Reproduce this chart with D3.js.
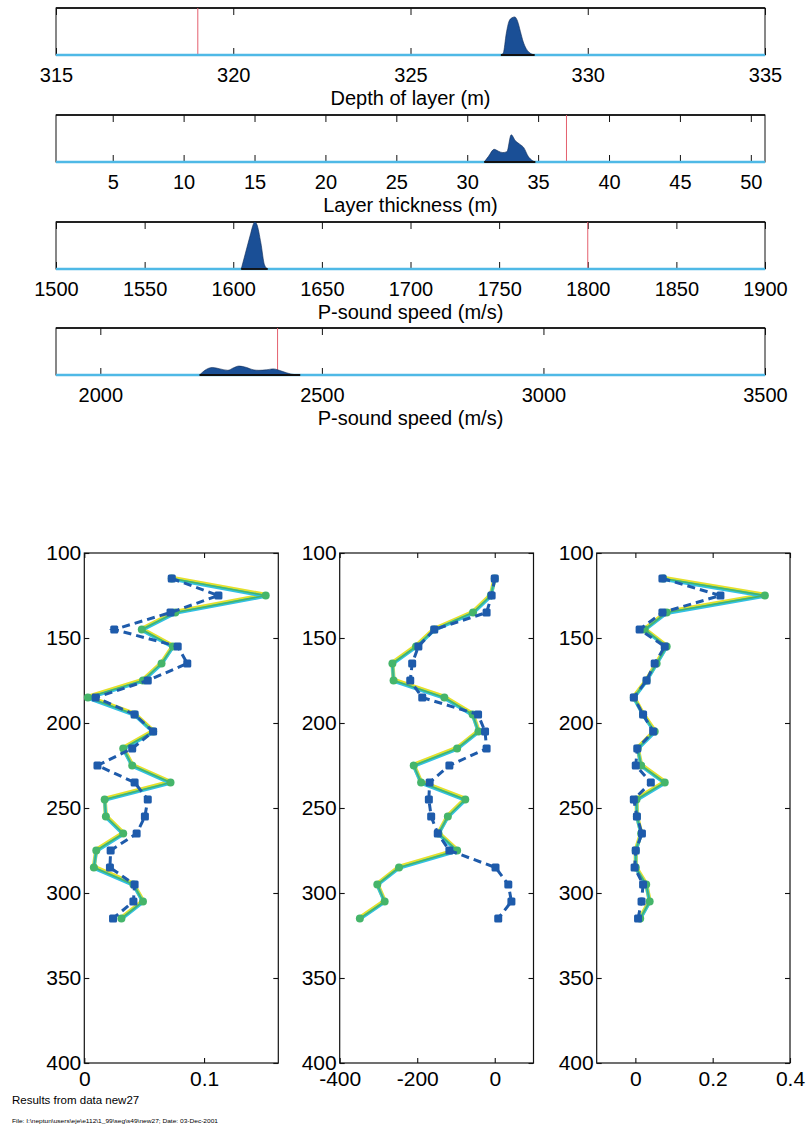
<!DOCTYPE html>
<html>
<head>
<meta charset="utf-8">
<script src="https://cdn.jsdelivr.net/npm/d3@7"></script>
<style>
  body { margin: 0; background: #fff; }
  svg { display: block; font-family: "Liberation Sans", Arial, Helvetica, sans-serif; }
</style>
</head>
<body>
<svg id="chart" width="809" height="1126"></svg>
<script>
// ---- posterior histograms (top) ----
const depthTicks = [315, 320, 325, 330, 335];
const depthX = [327.55, 327.62, 327.7, 327.78, 327.86, 327.94, 328.02, 328.1, 328.18, 328.26, 328.34, 328.42, 328.5];
const depthY = [0, 0.05, 0.45, 0.72, 0.79, 0.81, 0.72, 0.5, 0.28, 0.14, 0.06, 0.02, 0];

const thickTicks = [5, 10, 15, 20, 25, 30, 35, 40, 45, 50];
const thickX = [31.2, 31.5, 31.9, 32.2, 32.5, 32.8, 33.1, 33.4, 33.7, 34.0, 34.3, 34.6, 34.8];
const thickY = [0, 0.12, 0.27, 0.23, 0.2, 0.22, 0.58, 0.45, 0.38, 0.3, 0.12, 0.03, 0];

const speed1Ticks = [1500, 1550, 1600, 1650, 1700, 1750, 1800, 1850, 1900];
const speed1X = [1604.5, 1606.9, 1609.8, 1611.3, 1612.1, 1613.3, 1615.6, 1617.6, 1619.4];
const speed1Y = [0, 0.34, 0.75, 0.95, 1.0, 0.95, 0.55, 0.09, 0];

const speed2Ticks = [2000, 2500, 3000, 3500];
const speed2X = [2224, 2236, 2253, 2270, 2288, 2300, 2313, 2330, 2345, 2358, 2375, 2390, 2410, 2430, 2451];
const speed2Y = [0, 0.1, 0.16, 0.13, 0.1, 0.15, 0.19, 0.16, 0.11, 0.1, 0.11, 0.13, 0.08, 0.02, 0];

const trueValues = [319, 37, 1800, 2400];

// ---- profiles vs depth (bottom) ----
const depths = [115, 125, 135, 145, 155, 165, 175, 185, 195, 205, 215, 225, 235, 245, 255, 265, 275, 285, 295, 305, 315];
const depthAxisTicks = [100, 150, 200, 250, 300, 350, 400];

const profA_dashed = [0.073, 0.112, 0.072, 0.025, 0.078, 0.086, 0.053, 0.0095, 0.042, 0.0575, 0.040, 0.011, 0.042, 0.053, 0.0506, 0.0437, 0.022, 0.0214, 0.042, 0.041, 0.024];
const profA_solid  = [0.073, 0.1515, 0.076, 0.048, 0.074, 0.0645, 0.049, 0.003, 0.042, 0.0575, 0.0325, 0.040, 0.072, 0.017, 0.018, 0.0325, 0.010, 0.008, 0.041, 0.049, 0.031];
const profA_ticks  = [0, 0.1];

const profB_dashed = [0, -8, -21, -156, -197, -213, -218, -187, -43, -25, -21, -117, -168, -170, -164, -147, -117, 2, 35, 43, 9];
const profB_solid  = [0, -10, -56, -156, -203, -264, -261, -130, -57, -42, -97, -209, -190, -76, -121, -145, -97, -247, -303, -284, -348];
const profB_ticks  = [-400, -200, 0];

const profC_dashed = [0.070, 0.220, 0.070, 0.011, 0.076, 0.050, 0.029, -0.004, 0.020, 0.046, 0.005, 0.001, 0.040, -0.004, 0.004, 0.017, 0.001, -0.002, 0.020, 0.016, 0.007];
const profC_solid  = [0.072, 0.335, 0.081, 0.024, 0.081, 0.055, 0.029, -0.004, 0.020, 0.050, 0.006, 0.015, 0.076, 0.003, 0.004, 0.015, 0.001, 0.001, 0.028, 0.037, 0.0125];
const profC_ticks  = [0, 0.2, 0.4];

const svg = d3.select("#chart");

// colours
const histFill = "#1a4f96";
const baseCyan = "#4fb9e6";
const truthRed = "#e4606e";
const dashBlue = "#1e5bab";
const solidGreen = "#45b56a";
const solidYellow = "#e4e02c";
const solidCyan = "#33c0e4";

// ---------- histogram panels ----------
const histPanels = [
  { label: "Depth of layer (m)", domain: [315, 335], ticks: depthTicks, xs: depthX, ys: depthY, truth: trueValues[0], top: 8 },
  { label: "Layer thickness (m)", domain: [1, 51], ticks: thickTicks, xs: thickX, ys: thickY, truth: trueValues[1], top: 115 },
  { label: "P-sound speed (m/s)", domain: [1500, 1900], ticks: speed1Ticks, xs: speed1X, ys: speed1Y, truth: trueValues[2], top: 222 },
  { label: "P-sound speed (m/s)", domain: [1900, 3500], ticks: speed2Ticks, xs: speed2X, ys: speed2Y, truth: trueValues[3], top: 328 }
];

const histLeft = 56, histRight = 765, histH = 47;

histPanels.forEach(p => {
  const g = svg.append("g").attr("transform", `translate(0,${p.top})`);
  const x = d3.scaleLinear().domain(p.domain).range([histLeft, histRight]);
  const y = d3.scaleLinear().domain([0, 1]).range([histH, 0]);

  // box
  g.append("rect")
    .attr("x", histLeft).attr("y", 0)
    .attr("width", histRight - histLeft).attr("height", histH)
    .attr("fill", "none").attr("stroke", "#111").attr("stroke-width", 1);
  g.append("line")
    .attr("x1", histLeft).attr("x2", histRight).attr("y1", 0).attr("y2", 0)
    .attr("stroke", "#000").attr("stroke-width", 1.6);

  // ticks (inward, both sides)
  const bottomAxis = g.append("g")
    .attr("transform", `translate(0,${histH})`)
    .call(d3.axisBottom(x).tickValues(p.ticks).tickSize(-7).tickPadding(13).tickFormat(d => String(d)));
  bottomAxis.select(".domain").remove();
  bottomAxis.selectAll("text").attr("font-size", 20).attr("fill", "#000");
  bottomAxis.selectAll("line").attr("stroke", "#111");

  const topAxis = g.append("g")
    .call(d3.axisTop(x).tickValues(p.ticks).tickSize(-7).tickFormat(""));
  topAxis.select(".domain").remove();
  topAxis.selectAll("line").attr("stroke", "#111");

  // true value
  g.append("line")
    .attr("x1", x(p.truth)).attr("x2", x(p.truth))
    .attr("y1", 0).attr("y2", histH)
    .attr("stroke", truthRed).attr("stroke-width", 1);

  // cyan baseline
  g.append("line")
    .attr("x1", histLeft).attr("x2", histRight)
    .attr("y1", histH).attr("y2", histH)
    .attr("stroke", baseCyan).attr("stroke-width", 2.5);

  // density
  const pts = p.xs.map((v, i) => [v, p.ys[i]]);
  const area = d3.area()
    .x(d => x(d[0])).y0(y(0)).y1(d => y(d[1]))
    .curve(d3.curveMonotoneX);
  g.append("path")
    .datum(pts)
    .attr("d", area)
    .attr("fill", histFill)
    .attr("stroke", "#0d2a55").attr("stroke-width", 0.6);
  g.append("line")
    .attr("x1", x(p.xs[0])).attr("x2", x(p.xs[p.xs.length - 1]))
    .attr("y1", histH).attr("y2", histH)
    .attr("stroke", "#111").attr("stroke-width", 1.8);

  // axis label
  g.append("text")
    .attr("x", (histLeft + histRight) / 2).attr("y", histH + 50)
    .attr("text-anchor", "middle").attr("font-size", 20).attr("fill", "#000")
    .text(p.label);
});

// ---------- profile panels ----------
const profTop = 553, profBottom = 1063;
const profPanels = [
  { domain: [0, 0.162], ticks: profA_ticks, dashed: profA_dashed, solid: profA_solid, left: 84.3, right: 278.3 },
  { domain: [-400, 100], ticks: profB_ticks, dashed: profB_dashed, solid: profB_solid, left: 339.7, right: 533.5 },
  { domain: [-0.1, 0.4], ticks: profC_ticks, dashed: profC_dashed, solid: profC_solid, left: 596.7, right: 790 }
];

const yProf = d3.scaleLinear().domain([100, 400]).range([profTop, profBottom]);

profPanels.forEach(p => {
  const g = svg.append("g");
  const x = d3.scaleLinear().domain(p.domain).range([p.left, p.right]);
  const w = p.right - p.left;

  g.append("rect")
    .attr("x", p.left).attr("y", profTop)
    .attr("width", w).attr("height", profBottom - profTop)
    .attr("fill", "none").attr("stroke", "#111").attr("stroke-width", 1.2);

  const fmt = d => String(d);

  const ax = g.append("g").attr("transform", `translate(0,${profBottom})`)
    .call(d3.axisBottom(x).tickValues(p.ticks).tickSize(-5).tickPadding(8).tickFormat(fmt));
  const axTop = g.append("g").attr("transform", `translate(0,${profTop})`)
    .call(d3.axisTop(x).tickValues(p.ticks).tickSize(-5).tickFormat(""));
  const ay = g.append("g").attr("transform", `translate(${p.left},0)`)
    .call(d3.axisLeft(yProf).tickValues(depthAxisTicks).tickSize(-5).tickPadding(3).tickFormat(fmt));
  const ayR = g.append("g").attr("transform", `translate(${p.right},0)`)
    .call(d3.axisRight(yProf).tickValues(depthAxisTicks).tickSize(-5).tickFormat(""));

  [ax, axTop, ay, ayR].forEach(a => {
    a.select(".domain").remove();
    a.selectAll("line").attr("stroke", "#111").attr("stroke-width", 1.1);
    a.selectAll("text").attr("font-size", 21).attr("fill", "#000");
  });

  const lineSolid = d3.line().x(d => x(d[0])).y(d => yProf(d[1]));
  const solidPts = p.solid.map((v, i) => [v, depths[i]]);
  const dashedPts = p.dashed.map((v, i) => [v, depths[i]]);

  // solid: yellow and cyan traces nearly coincident, appearing green where they overlap
  g.append("path").datum(solidPts).attr("d", lineSolid)
    .attr("fill", "none").attr("stroke", solidYellow).attr("stroke-width", 4.2)
    .attr("stroke-linejoin", "round").attr("transform", "translate(0,-0.7)");
  g.append("path").datum(solidPts).attr("d", lineSolid)
    .attr("fill", "none").attr("stroke", solidCyan).attr("stroke-width", 3.2)
    .attr("stroke-linejoin", "round").attr("transform", "translate(0,0.8)");
  g.append("path").datum(solidPts).attr("d", lineSolid)
    .attr("fill", "none").attr("stroke", solidGreen).attr("stroke-width", 1.6)
    .attr("stroke-linejoin", "round");
  g.selectAll("circle.solid").data(solidPts).enter().append("circle")
    .attr("class", "solid")
    .attr("cx", d => x(d[0])).attr("cy", d => yProf(d[1]))
    .attr("r", 4).attr("fill", solidGreen);

  // dashed blue with squares
  g.append("path").datum(dashedPts).attr("d", lineSolid)
    .attr("fill", "none").attr("stroke", dashBlue).attr("stroke-width", 3)
    .attr("stroke-dasharray", "8,5");
  g.selectAll("rect.dashed").data(dashedPts).enter().append("rect")
    .attr("class", "dashed")
    .attr("x", d => x(d[0]) - 4).attr("y", d => yProf(d[1]) - 4)
    .attr("width", 8).attr("height", 8).attr("rx", 1.5)
    .attr("fill", dashBlue);
});

// ---------- footer ----------
svg.append("text")
  .attr("x", 12).attr("y", 1104)
  .attr("font-size", 11.5).attr("fill", "#000")
  .text("Results from data new27");
svg.append("text")
  .attr("x", 12).attr("y", 1123)
  .attr("font-size", 6).attr("fill", "#000")
  .attr("textLength", 206).attr("lengthAdjust", "spacingAndGlyphs")
  .text("File: I:\\neptun\\users\\eje\\e112\\1_99\\seg\\s49\\new27; Date: 03-Dec-2001");
</script>
</body>
</html>
